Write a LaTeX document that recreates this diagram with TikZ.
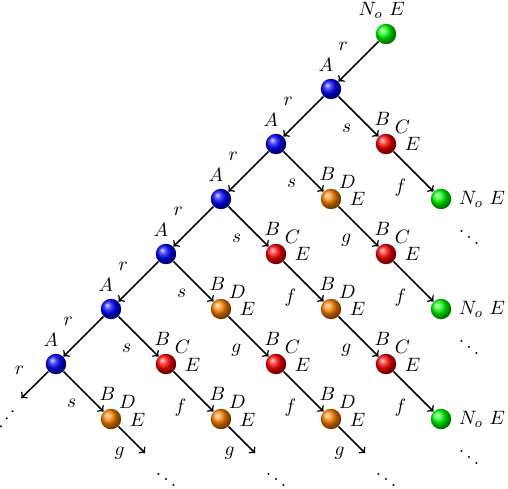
\documentclass[tikz,border=0pt]{standalone}
\begin{document}
\begin{tikzpicture}[x=1cm,y=1cm,
  ballnode/.style={circle, inner sep=0pt, minimum size=10.6pt, shading=ball, ball color=#1},
  conn/.style={->, thick},
  lowlbl/.style={below left},
  uplbl/.style={above left, xshift=-1.8pt, yshift=1.8pt},
  txt/.style={inner sep=0pt, anchor=center},
  dotsnode/.style={inner sep=2pt}
]
\useasboundingbox (-1.018,0.618) rectangle (8.218,-8.255);

% balls
\foreach \n/\x/\y in {a1/5/-1,a2/4/-2,a3/3/-3,a4/2/-4,a5/1/-5,a6/0/-6}
  \node[ballnode=blue] (\n) at (\x,\y) {};
\foreach \n/\x/\y in {r2/6/-2,r4a/4/-4,r4b/6/-4,r6a/2/-6,r6b/4/-6,r6c/6/-6}
  \node[ballnode=red] (\n) at (\x,\y) {};
\foreach \n/\x/\y in {o3/5/-3,o5a/3/-5,o5b/5/-5,o7a/1/-7,o7b/3/-7,o7c/5/-7}
  \node[ballnode=orange] (\n) at (\x,\y) {};
\foreach \n/\x/\y in {g0/6/0,g3/7/-3,g5/7/-5,g7/7/-7}
  \node[ballnode=green] (\n) at (\x,\y) {};

% labels of balls
\foreach \n in {a1,a2,a3,a4,a5,a6}
  \node[txt] (\n-A) at ([shift={(-2.7pt,12.4pt)}]\n.center) {$A$};
\foreach \n in {r2,r4a,r4b,r6a,r6b,r6c}{
  \node[txt] (\n-B) at ([shift={(-1.8pt,13.2pt)}]\n.center) {$B$};
  \node[txt] (\n-C) at ([shift={(8.5pt,9pt)}]\n.center) {$C$};
  \node[txt] (\n-E) at ([shift={(13.7pt,-0.2pt)}]\n.center) {$E$};
}
\foreach \n in {o3,o5a,o5b,o7a,o7b,o7c}{
  \node[txt] (\n-B) at ([shift={(-1.8pt,13.2pt)}]\n.center) {$B$};
  \node[txt] (\n-D) at ([shift={(8.5pt,9pt)}]\n.center) {$D$};
  \node[txt] (\n-E) at ([shift={(13.7pt,-0.2pt)}]\n.center) {$E$};
}
\node[inner sep=0pt, anchor=base west] (g0-l) at ([shift={(-14.3pt,9.7pt)}]g0.center) {$N_o\ E$};
\foreach \n in {g3,g5,g7}
  \node[inner sep=0pt, anchor=base west] (\n-l) at ([shift={(9.2pt,-2.95pt)}]\n.center) {$N_o\ E$};

% dots
\node[dotsnode, rotate=90] (dl) at (-1,-7) {$\ddots$};
\node[dotsnode] (db1) at (2,-8) {$\ddots$};
\node[dotsnode] (db2) at (4,-8) {$\ddots$};
\node[dotsnode] (db3) at (6,-8) {$\ddots$};
\node[dotsnode] (dg3) at (7.51,-3.595) {$\ddots$};
\node[dotsnode] (dg5) at (7.51,-5.595) {$\ddots$};
\node[dotsnode] (dg7) at (7.51,-7.595) {$\ddots$};

% free ends
\coordinate (ea6) at ([shift={(-0.63,-0.62)}]a6.center);
\coordinate (eo7a) at ([shift={(0.62,-0.62)}]o7a.center);
\coordinate (eo7b) at ([shift={(0.62,-0.62)}]o7b.center);
\coordinate (eo7c) at ([shift={(0.62,-0.62)}]o7c.center);

% r edges
\draw[conn] (g0) -- node[uplbl] {$r$} (a1);
\draw[conn] (a1) -- node[uplbl] {$r$} (a2);
\draw[conn] (a2) -- node[uplbl] {$r$} (a3);
\draw[conn] (a3) -- node[uplbl] {$r$} (a4);
\draw[conn] (a4) -- node[uplbl] {$r$} (a5);
\draw[conn] (a5) -- node[uplbl] {$r$} (a6);
\draw[conn] (a6) -- node[uplbl] {$r$} (ea6);
% s edges
\draw[conn] (a1) -- node[lowlbl] {$s$} (r2);
\draw[conn] (a2) -- node[lowlbl] {$s$} (o3);
\draw[conn] (a3) -- node[lowlbl] {$s$} (r4a);
\draw[conn] (a4) -- node[lowlbl] {$s$} (o5a);
\draw[conn] (a5) -- node[lowlbl] {$s$} (r6a);
\draw[conn] (a6) -- node[lowlbl] {$s$} (o7a);
% f edges
\draw[conn] (r2) -- node[lowlbl] {$f$} (g3);
\draw[conn] (r4a) -- node[lowlbl] {$f$} (o5b);
\draw[conn] (r4b) -- node[lowlbl] {$f$} (g5);
\draw[conn] (r6a) -- node[lowlbl] {$f$} (o7b);
\draw[conn] (r6b) -- node[lowlbl] {$f$} (o7c);
\draw[conn] (r6c) -- node[lowlbl] {$f$} (g7);
% g edges
\draw[conn] (o3) -- node[lowlbl] {$g$} (r4b);
\draw[conn] (o5a) -- node[lowlbl] {$g$} (r6b);
\draw[conn] (o5b) -- node[lowlbl] {$g$} (r6c);
\draw[conn] (o7a) -- node[lowlbl] {$g$} (eo7a);
\draw[conn] (o7b) -- node[lowlbl] {$g$} (eo7b);
\draw[conn] (o7c) -- node[lowlbl] {$g$} (eo7c);
\end{tikzpicture}
\end{document}
